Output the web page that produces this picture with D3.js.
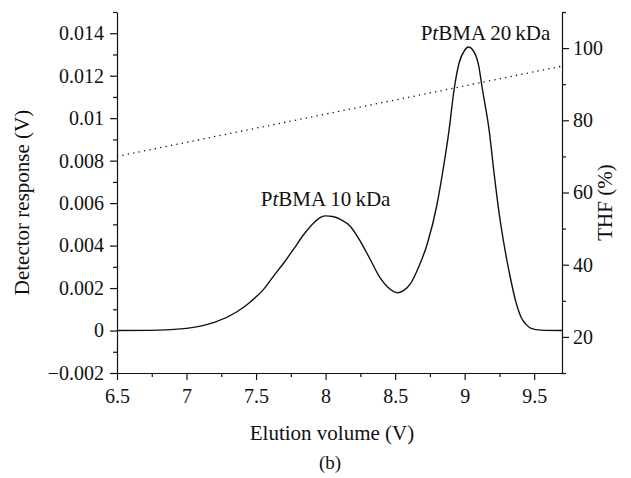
<!DOCTYPE html>
<html><head><meta charset="utf-8">
<script src="https://cdn.jsdelivr.net/npm/d3@7"></script>
<style>body{margin:0;background:#fff}svg{display:block}svg text{font-family:"Liberation Serif","Times New Roman",serif !important}</style>
</head><body>
<script>
// Data
const elution = [6.5,6.8,7.0,7.1,7.2,7.363,7.45,7.554,7.63,7.699,7.77,7.843,7.92,7.97,8.0,8.05,8.107,8.18,8.25,8.323,8.39,8.444,8.49,8.516,8.56,8.612,8.67,8.732,8.8,8.852,8.888,8.924,8.96,9.0,9.027,9.06,9.1,9.128,9.176,9.21,9.248,9.29,9.332,9.37,9.404,9.44,9.477,9.55,9.7];
const response = [0,0.00002,0.0001,0.00021,0.00038,0.000885,0.0013,0.00194,0.0026,0.00318,0.00383,0.00452,0.0051,0.00535,0.0054,0.00537,0.00523,0.00489,0.0042,0.00332,0.0025,0.00206,0.00183,0.00178,0.00188,0.00222,0.0030,0.0041,0.0059,0.00787,0.00944,0.01135,0.0126,0.0132,0.01335,0.0132,0.0125,0.01135,0.00944,0.0075,0.00552,0.0038,0.00238,0.0013,0.00065,0.0003,0.0001,0.00002,0];
const thfX = [6.5, 9.7];
const thfY = [70, 95];
const xTicks = [6.5,7,7.5,8,8.5,9,9.5];
const yTicks = [-0.002,0,0.002,0.004,0.006,0.008,0.01,0.012,0.014];
const y2Ticks = [20,40,60,80,100];
const labels = [{text:["P","t","BMA 20\u2009kDa"], x:9.15, y:0.0137},{text:["P","t","BMA 10\u2009kDa"], x:8.0, y:0.00585}];

const W=631,H=478;
const m={l:117,r:69,t:12,b:105};
const FF='"Liberation Serif", "Times New Roman", serif';
const svg=d3.select("body").append("svg").attr("width",W).attr("height",H);
const x=d3.scaleLinear().domain([6.5,9.7]).range([m.l,W-m.r]);
const y=d3.scaleLinear().domain([-0.002,0.015]).range([H-m.b,m.t]);
const y2=d3.scaleLinear().domain([10,110]).range([H-m.b,m.t]);
const fs=20, fsT=21;

function styleAxis(g){g.attr("font-family",null);g.selectAll("path.domain").attr("stroke","#111").attr("stroke-width",1.2);g.selectAll("line").attr("stroke","#111").attr("stroke-width",1.2);g.selectAll("text").style("font-size",fs+"px").style("font-family",FF).attr("fill","#111");}

// minor ticks
const xMinor=d3.range(6.75,9.7,0.5);
const yMinor=d3.range(-0.001,0.0151,0.002);
const y2Minor=d3.range(10,111,20);

const gx=svg.append("g").attr("transform",`translate(0,${H-m.b})`).call(d3.axisBottom(x).tickValues(xTicks).tickFormat(d3.format("~g")).tickSize(7).tickSizeOuter(0).tickPadding(9));
styleAxis(gx);
svg.append("g").attr("transform",`translate(0,${H-m.b})`).call(d3.axisBottom(x).tickValues(xMinor).tickFormat("").tickSize(4).tickSizeOuter(0)).call(g=>{g.select(".domain").remove();styleAxis(g);});

const gy=svg.append("g").attr("transform",`translate(${m.l},0)`).call(d3.axisLeft(y).tickValues(yTicks).tickFormat(d=>d===0?"0":d3.format("~g")(d).replace("-","\u2212")).tickSize(7).tickSizeOuter(0).tickPadding(6));
styleAxis(gy);
svg.append("g").attr("transform",`translate(${m.l},0)`).call(d3.axisLeft(y).tickValues(yMinor).tickFormat("").tickSize(4).tickSizeOuter(0)).call(g=>{g.select(".domain").remove();styleAxis(g);});

const gy2=svg.append("g").attr("transform",`translate(${W-m.r},0)`).call(d3.axisRight(y2).tickValues(y2Ticks).tickSize(7).tickSizeOuter(0).tickPadding(4));
styleAxis(gy2);
svg.append("g").attr("transform",`translate(${W-m.r},0)`).call(d3.axisRight(y2).tickValues(y2Minor).tickFormat("").tickSize(4).tickSizeOuter(0)).call(g=>{g.select(".domain").remove();styleAxis(g);});

// dotted THF line
svg.append("path").datum(thfX.map((d,i)=>[d,thfY[i]]))
  .attr("d",d3.line().x(d=>x(d[0])).y(d=>y2(d[1])))
  .attr("fill","none").attr("stroke","#111").attr("stroke-width",1.3).attr("stroke-dasharray","1.3,4.2");

// detector curve
svg.append("path").datum(elution.map((d,i)=>[d,response[i]]))
  .attr("d",d3.line().x(d=>x(d[0])).y(d=>y(d[1])).curve(d3.curveMonotoneX))
  .attr("fill","none").attr("stroke","#111").attr("stroke-width",1.4);

function txt(){return svg.append("text").style("font-family",FF).attr("fill","#111");}
// labels
labels.forEach(l=>{
  const t=txt().attr("x",x(l.x)).attr("y",y(l.y)).attr("text-anchor","middle").style("font-size",fsT+"px");
  t.append("tspan").text(l.text[0]);
  t.append("tspan").style("font-style","italic").text(l.text[1]);
  t.append("tspan").text(l.text[2]);
});

// axis titles
txt().attr("x",332).attr("y",H-m.b+67).attr("text-anchor","middle").style("font-size",fsT+"px").text("Elution volume (V)");
txt().attr("x",330).attr("y",H-9).attr("text-anchor","middle").style("font-size","19px").text("(b)");
txt().attr("transform",`translate(29,${(m.t+H-m.b)/2+10}) rotate(-90)`).attr("text-anchor","middle").style("font-size",fsT+"px").text("Detector response (V)");
txt().attr("transform",`translate(612,${(m.t+H-m.b)/2+10}) rotate(-90)`).attr("text-anchor","middle").style("font-size",fsT+"px").text("THF (%)");
</script>
</body></html>
